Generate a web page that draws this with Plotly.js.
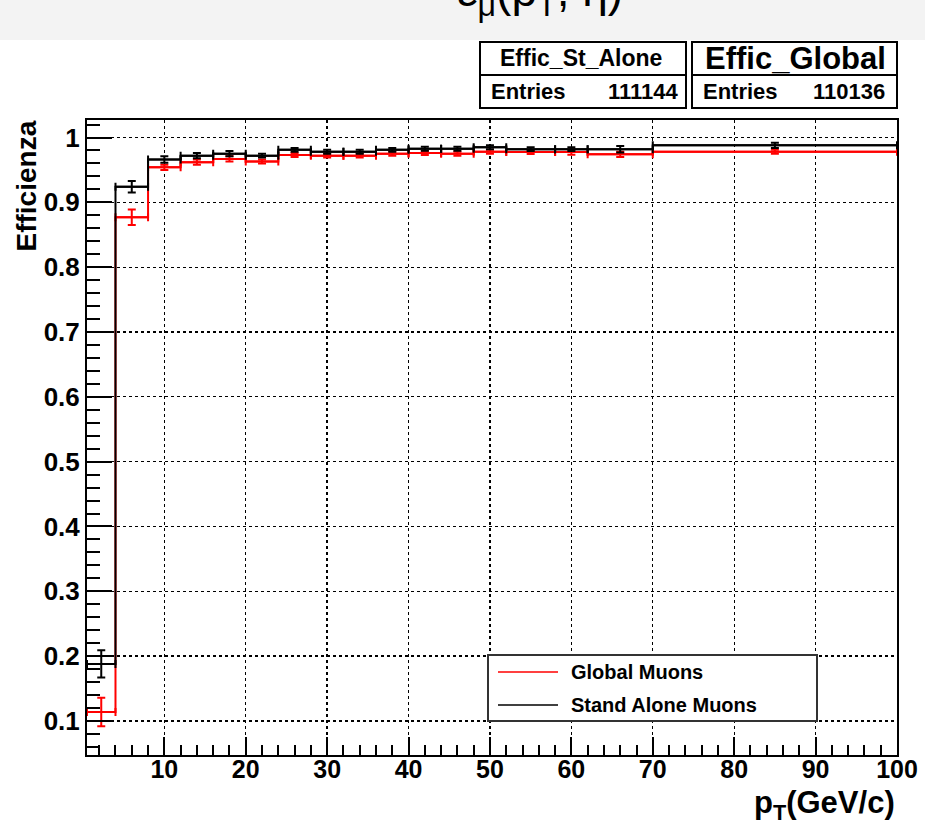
<!DOCTYPE html>
<html>
<head>
<meta charset="utf-8">
<script src="https://cdn.plot.ly/plotly-3.0.1.min.js"></script>
<style>html,body{margin:0;padding:0;background:#fff;}#chart{width:925px;height:822px;}</style>
</head>
<body>
<div id="chart"></div>
<script>
// Bin edges in pT (GeV/c)
const binEdges = [0.5, 4, 8, 12, 16, 20, 24, 28, 32, 36, 40, 44, 48, 52, 58, 62, 70, 100];
// Global muons efficiency (red)
const globalEff = [0.114, 0.877, 0.954, 0.962, 0.967, 0.963, 0.973, 0.972, 0.972, 0.975, 0.976, 0.975, 0.978, 0.9775, 0.9775, 0.974, 0.978];
const globalErr = [0.022, 0.012, 0.004, 0.004, 0.004, 0.003, 0.003, 0.003, 0.003, 0.003, 0.003, 0.003, 0.003, 0.003, 0.004, 0.004, 0.003];
// Stand alone muons efficiency (black)
const standAloneEff = [0.188, 0.924, 0.966, 0.972, 0.975, 0.972, 0.981, 0.978, 0.978, 0.981, 0.9826, 0.9826, 0.985, 0.982, 0.982, 0.982, 0.988];
const standAloneErr = [0.021, 0.009, 0.005, 0.004, 0.004, 0.003, 0.003, 0.003, 0.003, 0.003, 0.003, 0.003, 0.003, 0.003, 0.003, 0.005, 0.004];
// Tick labels
const xTickVals = [10, 20, 30, 40, 50, 60, 70, 80, 90, 100];
const yTickVals = [0.1, 0.2, 0.3, 0.4, 0.5, 0.6, 0.7, 0.8, 0.9, 1];
const yTickText = ['0.1', '0.2', '0.3', '0.4', '0.5', '0.6', '0.7', '0.8', '0.9', '1'];
// Stats / legend text
const statsNames = ['Effic_St_Alone', 'Effic_Global'];
const statsEntries = [111144, 110136];
const legendNames = ['Global Muons', 'Stand Alone Muons'];

const centers = binEdges.slice(0, -1).map((e, i) => (e + binEdges[i + 1]) / 2);
const halfW = binEdges.slice(0, -1).map((e, i) => (binEdges[i + 1] - e) / 2);

function stepTrace(vals, color) {
  return {
    x: binEdges, y: vals.concat([vals[vals.length - 1]]),
    mode: 'lines', line: {shape: 'hv', color: color, width: 2},
    hoverinfo: 'skip', showlegend: false, type: 'scatter'
  };
}
function errTrace(vals, errs, color) {
  return {
    x: centers, y: vals, mode: 'markers', type: 'scatter',
    marker: {size: 1, color: color},
    error_y: {type: 'data', array: errs, visible: true, color: color, thickness: 2, width: 4},
    error_x: {type: 'data', array: halfW, visible: true, color: color, thickness: 2, width: 4},
    showlegend: false
  };
}

const data = [
  stepTrace(globalEff, '#ff0000'),
  errTrace(globalEff, globalErr, '#ff0000'),
  stepTrace(standAloneEff, '#000000'),
  errTrace(standAloneEff, standAloneErr, '#000000')
];

const L = 87, R = 28, T = 120, B = 67, W = 925, H = 822;
const pw = W - L - R, ph = H - T - B;
const px = v => (v - L) / pw;
const py = v => (H - B - v) / ph;

const boldFont = (s) => ({family: 'Liberation Sans, Arial, sans-serif', size: s, color: '#000', weight: 'bold'});

const shapes = [
  // top gray band
  {type: 'rect', xref: 'paper', yref: 'paper', x0: px(0), x1: px(925), y0: py(40), y1: py(0), fillcolor: '#f3f3f3', line: {width: 0}, layer: 'below'},
  // stats box 1
  {type: 'rect', xref: 'paper', yref: 'paper', x0: px(480), x1: px(686), y0: py(108), y1: py(42), line: {color: '#000', width: 2}, fillcolor: '#fff'},
  {type: 'line', xref: 'paper', yref: 'paper', x0: px(480), x1: px(686), y0: py(75), y1: py(75), line: {color: '#000', width: 2}},
  // stats box 2
  {type: 'rect', xref: 'paper', yref: 'paper', x0: px(692), x1: px(897), y0: py(108), y1: py(42), line: {color: '#000', width: 2}, fillcolor: '#fff'},
  {type: 'line', xref: 'paper', yref: 'paper', x0: px(692), x1: px(897), y0: py(75), y1: py(75), line: {color: '#000', width: 2}},
  // legend box
  {type: 'rect', xref: 'paper', yref: 'paper', x0: px(488), x1: px(817), y0: py(721), y1: py(655), line: {color: '#333', width: 2}, fillcolor: '#fff'},
  {type: 'line', xref: 'paper', yref: 'paper', x0: px(498), x1: px(558), y0: py(672), y1: py(672), line: {color: '#ff0000', width: 1.5}},
  {type: 'line', xref: 'paper', yref: 'paper', x0: px(498), x1: px(558), y0: py(705), y1: py(705), line: {color: '#000', width: 1.5}}
];

const annotations = [
  // cut-off title
  {xref: 'paper', yref: 'paper', x: px(540), y: py(25), xanchor: 'center', yanchor: 'bottom', showarrow: false,
   text: 'ε<sub>μ</sub>(p<sub>T</sub>, η)', font: {family: 'Liberation Sans, Arial, sans-serif', size: 46, color: '#000'}},
  // stats text
  {xref: 'paper', yref: 'paper', x: px(581), y: py(58), xanchor: 'center', yanchor: 'middle', showarrow: false,
   text: statsNames[0], font: boldFont(23)},
  {xref: 'paper', yref: 'paper', x: px(489), y: py(92), xanchor: 'left', yanchor: 'middle', showarrow: false,
   text: 'Entries', font: boldFont(22)},
  {xref: 'paper', yref: 'paper', x: px(681), y: py(92), xanchor: 'right', yanchor: 'middle', showarrow: false,
   text: String(statsEntries[0]), font: boldFont(22)},
  {xref: 'paper', yref: 'paper', x: px(795), y: py(58), xanchor: 'center', yanchor: 'middle', showarrow: false,
   text: statsNames[1], font: boldFont(31)},
  {xref: 'paper', yref: 'paper', x: px(701), y: py(92), xanchor: 'left', yanchor: 'middle', showarrow: false,
   text: 'Entries', font: boldFont(22)},
  {xref: 'paper', yref: 'paper', x: px(887), y: py(92), xanchor: 'right', yanchor: 'middle', showarrow: false,
   text: String(statsEntries[1]), font: boldFont(22)},
  // legend text
  {xref: 'paper', yref: 'paper', x: px(569), y: py(672), xanchor: 'left', yanchor: 'middle', showarrow: false,
   text: legendNames[0], font: boldFont(20)},
  {xref: 'paper', yref: 'paper', x: px(569), y: py(705), xanchor: 'left', yanchor: 'middle', showarrow: false,
   text: legendNames[1], font: boldFont(20)},
  // axis titles
  {xref: 'paper', yref: 'paper', x: px(26), y: py(118), xanchor: 'center', yanchor: 'top', textangle: -90, showarrow: false,
   text: 'Efficienza', font: boldFont(28)},
  {xref: 'paper', yref: 'paper', x: 1, y: py(783), xanchor: 'right', yanchor: 'top', showarrow: false,
   text: 'p<sub>T</sub>(GeV/c)', font: boldFont(31)}
];

const layout = {
  width: W, height: H,
  margin: {l: L, r: R, t: T, b: B, pad: 0},
  paper_bgcolor: '#ffffff', plot_bgcolor: '#ffffff',
  showlegend: false,
  xaxis: {
    range: [0.5, 100], tickmode: 'array', tickvals: xTickVals, ticktext: xTickVals.map(String),
    ticks: 'inside', ticklen: 18, tickwidth: 2, tickcolor: '#000',
    minor: {ticks: 'inside', ticklen: 10, tickwidth: 2, tickcolor: '#000', dtick: 2, tick0: 0, showgrid: false},
    showgrid: true, gridcolor: '#000', griddash: 'dot', gridwidth: 1.3,
    showline: true, linecolor: '#000', linewidth: 2, mirror: true,
    zeroline: false, tickfont: boldFont(25), ticklabelstandoff: -9
  },
  yaxis: {
    range: [0.0475, 1.027], tickmode: 'array', tickvals: yTickVals, ticktext: yTickText,
    ticks: 'inside', ticklen: 25, tickwidth: 2, tickcolor: '#000',
    minor: {ticks: 'inside', ticklen: 13, tickwidth: 2, tickcolor: '#000', dtick: 0.02, tick0: 0, showgrid: false},
    showgrid: true, gridcolor: '#000', griddash: 'dot', gridwidth: 1.3,
    showline: true, linecolor: '#000', linewidth: 2, mirror: true,
    zeroline: false, tickfont: boldFont(26), ticklabelstandoff: 0
  },
  shapes: shapes,
  annotations: annotations
};

Plotly.newPlot('chart', data, layout, {displayModeBar: false, staticPlot: true});
</script>
</body>
</html>
